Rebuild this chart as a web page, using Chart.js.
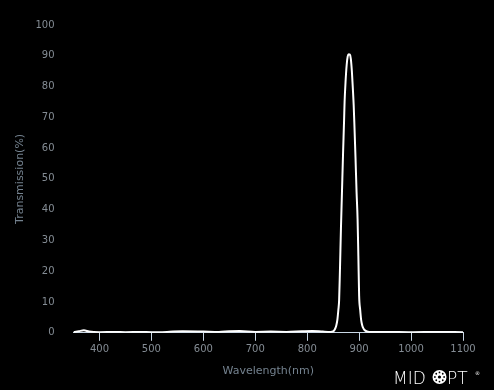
<!DOCTYPE html>
<html>
<head>
<meta charset="utf-8">
<script src="https://cdn.jsdelivr.net/npm/chart.js@4/dist/chart.umd.min.js"></script>
<style>
  html, body { margin: 0; padding: 0; background: #000; }
  #wrap { position: relative; width: 494px; height: 390px; }
</style>
</head>
<body>
<div id="wrap"><canvas id="c" width="494" height="390"></canvas></div>
<script>
// Wavelength (nm)
const wavelengths = [350, 360, 370, 380, 400, 430, 450, 480, 500, 530, 560, 600, 630, 650, 670, 700, 730, 760, 790, 810, 830, 845, 850, 852, 854, 856, 858, 860, 861.5, 863, 865, 867, 869, 871, 872, 874, 876, 878, 880, 882, 884, 886, 888, 889.5, 891, 893, 895, 897, 898.5, 900, 902, 904, 906, 908, 910, 914, 920, 950, 1000, 1050, 1100];
// Transmission (%)
const transmission = [0.2, 0.5, 0.8, 0.4, 0.2, 0.3, 0.2, 0.3, 0.2, 0.3, 0.5, 0.4, 0.3, 0.5, 0.6, 0.3, 0.4, 0.3, 0.5, 0.6, 0.4, 0.3, 0.5, 0.8, 1.4, 2.4, 4.1, 7.5, 10.7, 20, 34, 46, 58, 69, 75, 82, 87, 89.8, 90.5, 90.4, 89, 85, 79, 74, 67, 57, 46, 37, 25, 12, 7.5, 4, 2.4, 1.5, 1.0, 0.5, 0.3, 0.3, 0.2, 0.3, 0.2];
const xTicks = [400, 500, 600, 700, 800, 900, 1000, 1100];
const yTicks = [0, 10, 20, 30, 40, 50, 60, 70, 80, 90, 100];

const points = wavelengths.map((w, i) => ({ x: w, y: transmission[i] }));

const logoPlugin = {
  id: 'logo',
  afterDraw(chart) {
    const ctx = chart.ctx;
    ctx.save();
    ctx.fillStyle = '#ffffff';
    ctx.font = '300 17px "DejaVu Sans", sans-serif';
    ctx.textBaseline = 'alphabetic';
    ctx.textAlign = 'left';
    ctx.fillText('MID', 393, 384);
    // O mark: circle of dots
    const cx = 439.5, cy = 377, r = 7;
    ctx.beginPath();
    ctx.arc(cx, cy, r, 0, Math.PI * 2);
    ctx.fill();
    ctx.fillStyle = '#000';
    for (let k = 0; k < 8; k++) {
      const a = k * Math.PI / 4;
      ctx.beginPath();
      ctx.arc(cx + Math.cos(a) * 4.6, cy + Math.sin(a) * 4.6, 0.9, 0, Math.PI * 2);
      ctx.fill();
    }
    ctx.beginPath();
    ctx.arc(cx, cy, 1.6, 0, Math.PI * 2);
    ctx.fill();
    ctx.fillStyle = '#ffffff';
    ctx.fillText('PT', 447, 384);
    ctx.font = '5px "DejaVu Sans", sans-serif';
    ctx.fillText('®', 475, 375);
    ctx.restore();
  }
};

new Chart(document.getElementById('c'), {
  type: 'line',
  data: {
    datasets: [{
      data: points,
      borderColor: '#ffffff',
      borderWidth: 2,
      pointRadius: 0,
      fill: false,
      cubicInterpolationMode: 'monotone'
    }]
  },
  options: {
    responsive: false,
    animation: false,
    events: [],
    layout: { padding: { top: 19, right: 31, bottom: 12, left: 0 } },
    plugins: { legend: { display: false }, tooltip: { enabled: false } },
    scales: {
      x: {
        type: 'linear',
        min: 350,
        max: 1100,
        afterBuildTicks(scale) { scale.ticks = xTicks.map(v => ({ value: v })); },
        ticks: { color: '#848c94', font: { family: '"DejaVu Sans", sans-serif', size: 10 }, padding: 3, maxRotation: 0, callback: v => String(v) },
        grid: { display: true, drawOnChartArea: false, drawTicks: true, tickLength: 8, color: '#c8d6e4', lineWidth: 1 },
        border: { display: true, color: '#c8d6e4', width: 1 },
        title: { display: true, text: 'Wavelength(nm)', color: '#74828f', font: { family: '"DejaVu Sans", sans-serif', size: 11 }, padding: { top: 6, bottom: 0 } }
      },
      y: {
        min: 0,
        max: 100,
        afterBuildTicks(scale) { scale.ticks = yTicks.map(v => ({ value: v })); },
        afterFit(scale) { scale.width = 73.5; },
        ticks: { color: '#848c94', font: { family: '"DejaVu Sans", sans-serif', size: 10 }, padding: 19, callback: v => String(v) },
        grid: { display: false, drawTicks: false },
        border: { display: false },
        title: { display: true, text: 'Transmission(%)', color: '#74828f', font: { family: '"DejaVu Sans", sans-serif', size: 11 }, padding: { top: 14, bottom: 6 } }
      }
    }
  },
  plugins: [logoPlugin]
});
</script>
</body>
</html>
